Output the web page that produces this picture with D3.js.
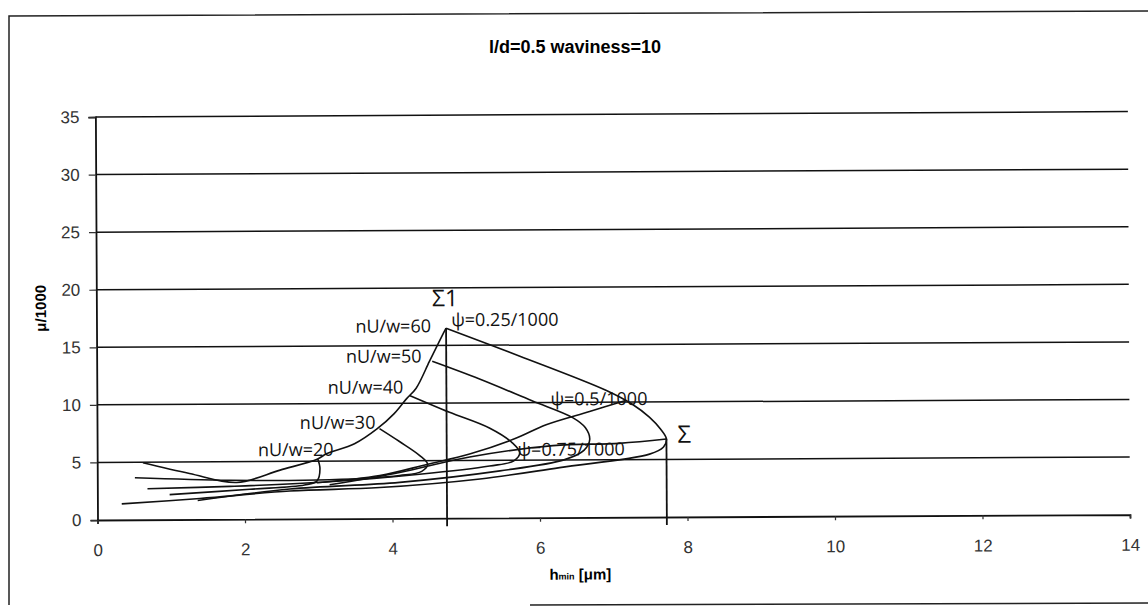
<!DOCTYPE html>
<html lang="en">
  <head>
    <meta charset="UTF-8" />
    <title>l/d=0.5 waviness=10</title>
    <script src="https://d3js.org/d3.v7.min.js"></script>
    <style>
      body {
        margin: 0;
        background: #fff;
      }
      svg {
        display: block;
      }
      .tick text {
        font-family: "Liberation Sans", Arial, sans-serif;
        font-size: 17px;
        fill: #333;
      }
      .curve {
        fill: none;
        stroke: #111;
        stroke-width: 1.6px;
      }
      .note {
        font-family: "Open Sans", sans-serif;
        font-size: 18px;
        fill: #111;
      }
    </style>
  </head>
  <body>
    <svg id="chart" width="1148" height="611"></svg>

    <script>
      // --- data: [h_min (µm), µ/1000] ---
      const xTicks = [0, 2, 4, 6, 8, 10, 12, 14];
      const yTicks = [0, 5, 10, 15, 20, 25, 30, 35];

      // psi = 0.25/1000 (top-left envelope)
      const psi025 = [
        [0.62, 4.95], [1.25, 4.0], [1.89, 3.2], [2.48, 4.25], [2.99, 5.2],
        [3.11, 5.65], [3.49, 6.5], [3.8, 7.8], [4.03, 9.1], [4.2, 10.4],
        [4.33, 11.3], [4.51, 13.6], [4.6, 14.75], [4.69, 15.9], [4.74, 16.5],
      ];
      const psi050 = [
        [2.98, 3.13], [3.83, 3.73], [4.48, 4.69], [5.05, 5.56],
        [5.66, 6.86], [6.09, 8.07], [6.68, 9.2], [7.18, 10.16],
      ];
      const psi075 = [
        [3.15, 2.95], [4.1, 3.99], [5.05, 5.3], [6.18, 6.25],
        [7.08, 6.42], [7.72, 6.77],
      ];

      // nU/w loops
      const nuw20 = [
        [2.99, 5.21], [3.02, 4.34], [2.98, 3.3], [2.81, 2.95],
        [2.07, 2.6], [0.98, 2.17],
      ];
      const nuw30 = [
        [3.83, 7.81], [4.1, 6.68], [4.37, 5.47], [4.48, 4.69], [4.4, 4.08],
        [4.1, 3.73], [3.15, 3.39], [1.8, 3.39], [0.51, 3.65],
      ];
      const nuw40 = [
        [4.24, 10.68], [4.78, 9.2], [5.32, 7.81], [5.63, 6.51], [5.73, 5.64],
        [5.65, 4.95], [5.32, 4.51], [4.37, 3.82], [3.15, 3.21], [1.8, 2.86],
        [0.68, 2.69],
      ];
      const nuw50 = [
        [4.55, 13.63], [5.19, 12.07], [5.9, 10.16], [6.45, 8.68], [6.62, 7.81],
        [6.68, 6.77], [6.6, 5.82], [6.34, 5.03], [5.46, 4.08], [4.1, 3.13],
        [2.61, 2.6], [1.36, 1.65],
      ];
      const nuw60 = [
        [4.74, 16.49], [5.73, 14.06], [6.91, 11.02], [7.26, 9.81], [7.49, 8.68],
        [7.64, 7.64], [7.72, 6.77], [7.68, 6.08], [7.49, 5.47], [6.27, 4.34],
        [5.19, 3.39], [3.83, 2.69], [2.61, 2.43], [1.39, 1.82], [0.33, 1.39],
      ];

      // vertical markers
      const sigma1 = { h: 4.74, top: 16.5 };
      const sigma = { h: 7.72, top: 6.8 };

      // annotation labels: [text, h, µ/1000]
      const notes = [
        ["nU/w=60", 3.51, 16.15],
        ["nU/w=50", 3.38, 13.54],
        ["nU/w=40", 3.13, 10.85],
        ["nU/w=30", 2.75, 7.81],
        ["nU/w=20", 2.18, 5.47],
        ["\u03c8=0.25/1000", 4.81, 16.67],
        ["\u03c8=0.5/1000", 6.15, 9.75],
        ["\u03c8=0.75/1000", 5.7, 5.38],
      ];

      // --- chart ---
      const svg = d3.select("#chart");

      // scanned frame
      svg
        .append("path")
        .attr("d", "M9,605 L9,16 L1148,11 M530,605 L1148,603")
        .attr("fill", "none")
        .attr("stroke", "#222")
        .attr("stroke-width", 1.5);

      svg
        .append("text")
        .attr("x", 575)
        .attr("y", 53)
        .attr("text-anchor", "middle")
        .style("font-family", "'Liberation Sans', Arial, sans-serif")
        .style("font-weight", "bold")
        .style("font-size", "18px")
        .text("l/d=0.5 waviness=10");

      const x = d3.scaleLinear().domain([0, 14]).range([97.5, 1130]);
      const y = d3.scaleLinear().domain([0, 35]).range([520, 117]);

      // the scan is slightly rotated
      const g = svg.append("g").attr("transform", "rotate(-0.3, 97.5, 520)");

      // horizontal gridlines
      g.selectAll(".grid")
        .data(yTicks.slice(1))
        .join("line")
        .attr("class", "grid")
        .attr("x1", x(0))
        .attr("x2", x(14))
        .attr("y1", (d) => y(d))
        .attr("y2", (d) => y(d))
        .attr("stroke", "#111")
        .attr("stroke-width", 1.5);

      // axes
      const yAxis = g
        .append("g")
        .attr("transform", `translate(${x(0)},0)`)
        .call(d3.axisLeft(y).tickValues(yTicks).tickSize(7).tickPadding(9));
      const xAxis = g
        .append("g")
        .attr("transform", `translate(0,${y(0)})`)
        .call(d3.axisBottom(x).tickValues(xTicks).tickSize(4).tickPadding(20));
      [yAxis, xAxis].forEach((a) => {
        a.select(".domain").attr("stroke", "#111").attr("stroke-width", 1.8);
        a.selectAll(".tick line").attr("stroke", "#333").attr("stroke-width", 1.2);
      });

      // axis titles
      g.append("text")
        .attr("transform", "translate(47,308) rotate(-90)")
        .attr("text-anchor", "middle")
        .style("font-family", "'Liberation Sans', Arial, sans-serif")
        .style("font-weight", "bold")
        .style("font-size", "15px")
        .text("\u03bc/1000");

      const xt = g
        .append("text")
        .attr("x", 580)
        .attr("y", 582)
        .attr("text-anchor", "middle")
        .style("font-family", "'Liberation Sans', Arial, sans-serif")
        .style("font-weight", "bold")
        .style("font-size", "15px");
      xt.append("tspan").text("h");
      xt.append("tspan").style("font-size", "9px").text("min");
      xt.append("tspan").text(" [\u03bcm]");

      // curves
      const line = d3
        .line()
        .x((d) => x(d[0]))
        .y((d) => y(d[1]))
        .curve(d3.curveCatmullRom.alpha(0.5));

      g.selectAll(".curve")
        .data([psi025, psi050, psi075, nuw20, nuw30, nuw40, nuw50, nuw60])
        .join("path")
        .attr("class", "curve")
        .attr("d", line);

      // Σ markers
      g.selectAll(".sigma")
        .data([sigma1, sigma])
        .join("line")
        .attr("class", "sigma")
        .attr("x1", (d) => x(d.h))
        .attr("x2", (d) => x(d.h))
        .attr("y1", y(-0.7))
        .attr("y2", (d) => y(d.top))
        .attr("stroke", "#111")
        .attr("stroke-width", 1.8);

      g.append("text")
        .attr("class", "note")
        .attr("x", x(4.55))
        .attr("y", y(18.4))
        .style("font-size", "23px")
        .text("\u03a31");
      g.append("text")
        .attr("class", "note")
        .attr("x", x(7.87))
        .attr("y", y(6.45))
        .style("font-size", "24px")
        .text("\u03a3");

      g.selectAll(".lbl")
        .data(notes)
        .join("text")
        .attr("class", "note lbl")
        .attr("x", (d) => x(d[1]))
        .attr("y", (d) => y(d[2]))
        .text((d) => d[0]);
    </script>
  </body>
</html>
